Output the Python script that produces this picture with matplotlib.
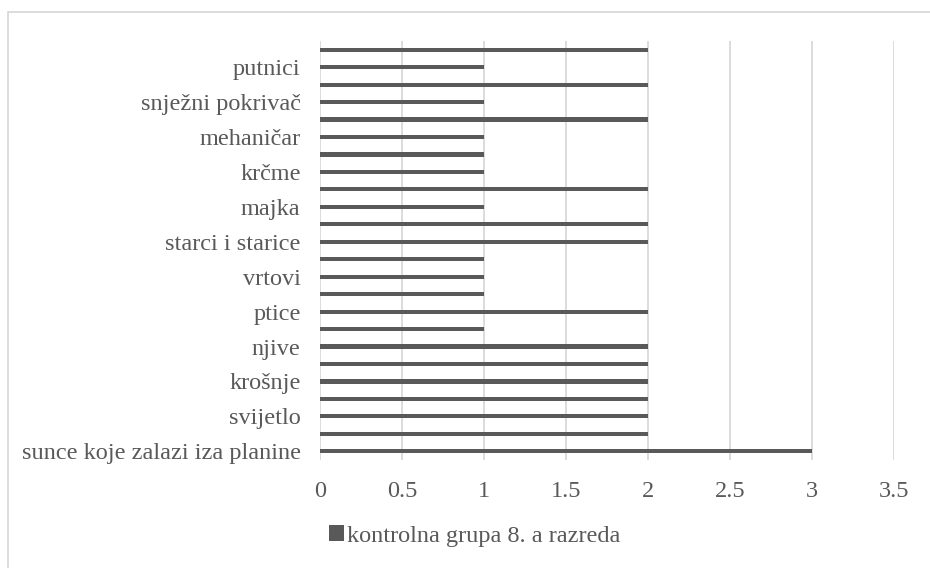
import matplotlib.pyplot as plt
from matplotlib.patches import Rectangle

# bars from bottom to top; Excel only printed every other category name
labels = ["sunce koje zalazi iza planine", "", "svijetlo", "", "krošnje", "",
          "njive", "", "ptice", "", "vrtovi", "", "starci i starice", "",
          "majka", "", "krčme", "", "mehaničar", "", "snježni pokrivač", "",
          "putnici", ""]
values = [3, 2, 2, 2, 2, 2, 2, 1, 2, 1, 1, 1, 2, 2, 1, 2, 1, 1, 1, 2, 1, 2, 1, 2]
series_name = "kontrolna grupa 8. a razreda"
xticks = [0, 0.5, 1, 1.5, 2, 2.5, 3, 3.5]

plt.rcParams['font.family'] = ['Liberation Serif', 'DejaVu Serif']
text_col = "#595959"
bar_col = "#595959"
grid_col = "#d9d9d9"
fs = 17.5

fig = plt.figure(figsize=(9.3, 5.68), dpi=100)
ax = fig.add_axes([320 / 930, 1 - 460 / 568, (894 - 320) / 930, (460 - 41) / 568])

pos = list(range(len(values)))
bars = ax.barh(pos, values, height=0.24, color=bar_col, zorder=3, label=series_name)

ax.set_xlim(0, 3.5)
ax.set_ylim(-0.5, len(values) - 0.5)
ax.set_xticks(xticks)
ax.set_xticklabels([("%g" % t) for t in xticks], fontsize=fs, color=text_col)
ax.set_yticks(pos)
ax.set_yticklabels(labels, fontsize=fs, color=text_col)
ax.tick_params(axis="both", length=0)
ax.tick_params(axis="x", pad=15)
ax.tick_params(axis="y", pad=14)
ax.grid(axis="x", color=grid_col, linewidth=1.3, zorder=0)
for s in ax.spines.values():
    s.set_visible(False)

# legend below the plot
ax.legend(handles=[bars], loc="center", bbox_to_anchor=(475 / 930, 1 - 536 / 568),
          bbox_transform=fig.transFigure, frameon=False, fontsize=fs,
          handlelength=0.6, handleheight=0.6, handletextpad=0.15, labelcolor=text_col)

# chart area border (right and bottom edges fall outside the picture)
fig.patches.append(Rectangle((8 / 930, -0.05), 1.1, 1 - 12 / 568 + 0.05,
                             transform=fig.transFigure, fill=False,
                             edgecolor="#d9d9d9", linewidth=1.3))

fig.savefig("out.png", dpi=100)
